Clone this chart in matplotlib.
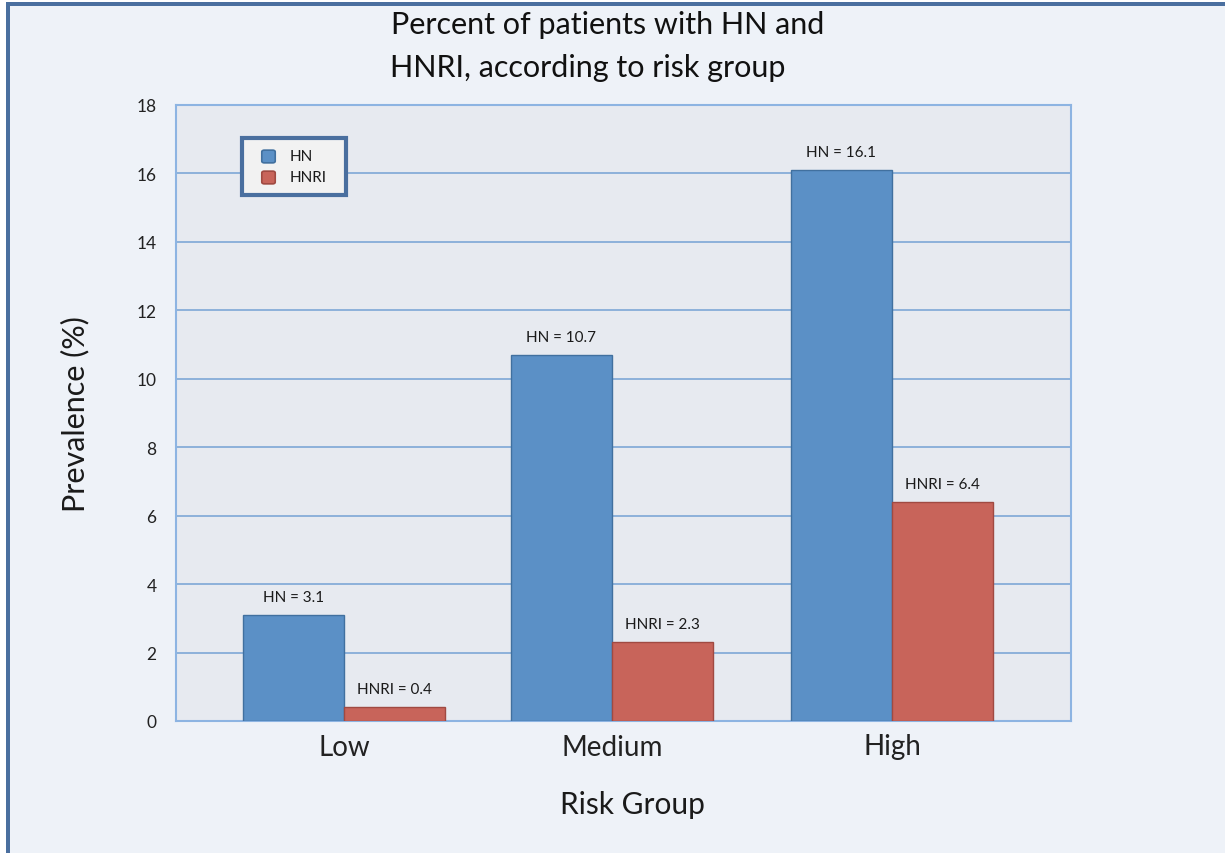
import matplotlib
matplotlib.use("Agg")
import matplotlib.pyplot as plt
from matplotlib.patches import Rectangle, FancyBboxPatch
import numpy as np

# --- data ---
groups = ["Low", "Medium", "High"]
hn_values = [3.1, 10.7, 16.1]
hnri_values = [0.4, 2.3, 6.4]
series_names = ["HN", "HNRI"]
y_ticks = [0, 2, 4, 6, 8, 10, 12, 14, 16, 18]

plt.rcParams["font.family"] = ["Lato", "DejaVu Sans"]

W, H = 1225, 854

fig_bg = "#eef2f8"
ax_bg = "#e7eaf0"
grid_col = "#7ea7d6"
hn_col = "#5b90c6"
hn_edge = "#41709f"
hnri_col = "#c8645a"
hnri_edge = "#a04a42"
frame_col = "#4a6f9f"


def fx(px):
    return px / W


def fy(py):
    return 1 - py / H


fig = plt.figure(figsize=(W / 100, H / 100), dpi=100, facecolor=fig_bg)
ax = fig.add_axes([fx(176), fy(722), fx(1071) - fx(176), fy(106) - fy(722)])
ax.set_facecolor(ax_bg)

# outer frame along the top and left edges
fig.patches.append(Rectangle((0, 0), fx(6), 1, transform=fig.transFigure,
                             facecolor="white", edgecolor="none", zorder=0))
fig.patches.append(Rectangle((0, fy(3)), 1, 3 / H, transform=fig.transFigure,
                             facecolor="white", edgecolor="none", zorder=0))
fig.patches.append(Rectangle((fx(6), 0), fx(4), fy(3), transform=fig.transFigure,
                             facecolor=frame_col, edgecolor="none", zorder=1))
fig.patches.append(Rectangle((fx(6), fy(7)), 1, 4 / H, transform=fig.transFigure,
                             facecolor=frame_col, edgecolor="none", zorder=1))

# group centres (slightly uneven spacing between groups)
x = np.array([0.0, 0.978, 2.0])
w = 0.369

bars_hn = ax.bar(x - w / 2, hn_values, w, color=hn_col, edgecolor=hn_edge,
                 linewidth=1.0, zorder=3)
bars_hnri = ax.bar(x + w / 2, hnri_values, w, color=hnri_col, edgecolor=hnri_edge,
                   linewidth=1.0, zorder=3)

for bars, name, vals in ((bars_hn, series_names[0], hn_values),
                         (bars_hnri, series_names[1], hnri_values)):
    for b, v in zip(bars, vals):
        ax.annotate(f"{name} = {v}", (b.get_x() + b.get_width() / 2, v),
                    xytext=(0, 8), textcoords="offset points",
                    ha="center", va="bottom", fontsize=11, color="#1a1a1a")

ax.set_xlim(-0.613, 2.653)
ax.set_ylim(0, 18)
ax.set_yticks(y_ticks)
ax.set_yticklabels([str(t) for t in y_ticks], fontsize=12.5, color="#222222")
ax.set_xticks(x)
ax.set_xticklabels(groups, fontsize=20, color="#222222")
ax.tick_params(axis="y", length=0, pad=14)
ax.tick_params(axis="x", length=0, pad=9)

ax.yaxis.grid(True, color=grid_col, linewidth=1.2, zorder=1)
ax.set_axisbelow(True)
for s in ax.spines.values():
    s.set_color("#8db4e2")
    s.set_linewidth(1.5)

ax.set_ylabel("Prevalence (%)", fontsize=22, color="#1a1a1a", labelpad=34)
fig.text(fx(632), fy(805), "Risk Group", fontsize=21.5, color="#1a1a1a",
         ha="center", va="center")

fig.text(fx(608), fy(25), "Percent of patients with HN and",
         fontsize=22, color="#111111", ha="center", va="center")
fig.text(fx(588), fy(68), "HNRI, according to risk group",
         fontsize=22, color="#111111", ha="center", va="center")

# legend box
fig.patches.append(Rectangle((fx(242), fy(196)), fx(346) - fx(242), fy(139) - fy(196),
                             transform=fig.transFigure, facecolor="#f2f2f2",
                             edgecolor=frame_col, linewidth=3, zorder=5))
for i, (name, fc, ec) in enumerate(zip(series_names, [hn_col, hnri_col],
                                       [hn_edge, hnri_edge])):
    cy = 157 + 21 * i
    fig.patches.append(FancyBboxPatch((fx(263), fy(cy + 6)), fx(11), 11 / H,
                                      boxstyle="round,pad=0.001,rounding_size=0.002",
                                      transform=fig.transFigure, facecolor=fc,
                                      edgecolor=ec, linewidth=1.2, zorder=6))
    fig.text(fx(290), fy(cy), name, fontsize=11, color="#1a1a1a",
             ha="left", va="center", zorder=7)

fig.savefig("out.png", dpi=100, facecolor=fig_bg)
